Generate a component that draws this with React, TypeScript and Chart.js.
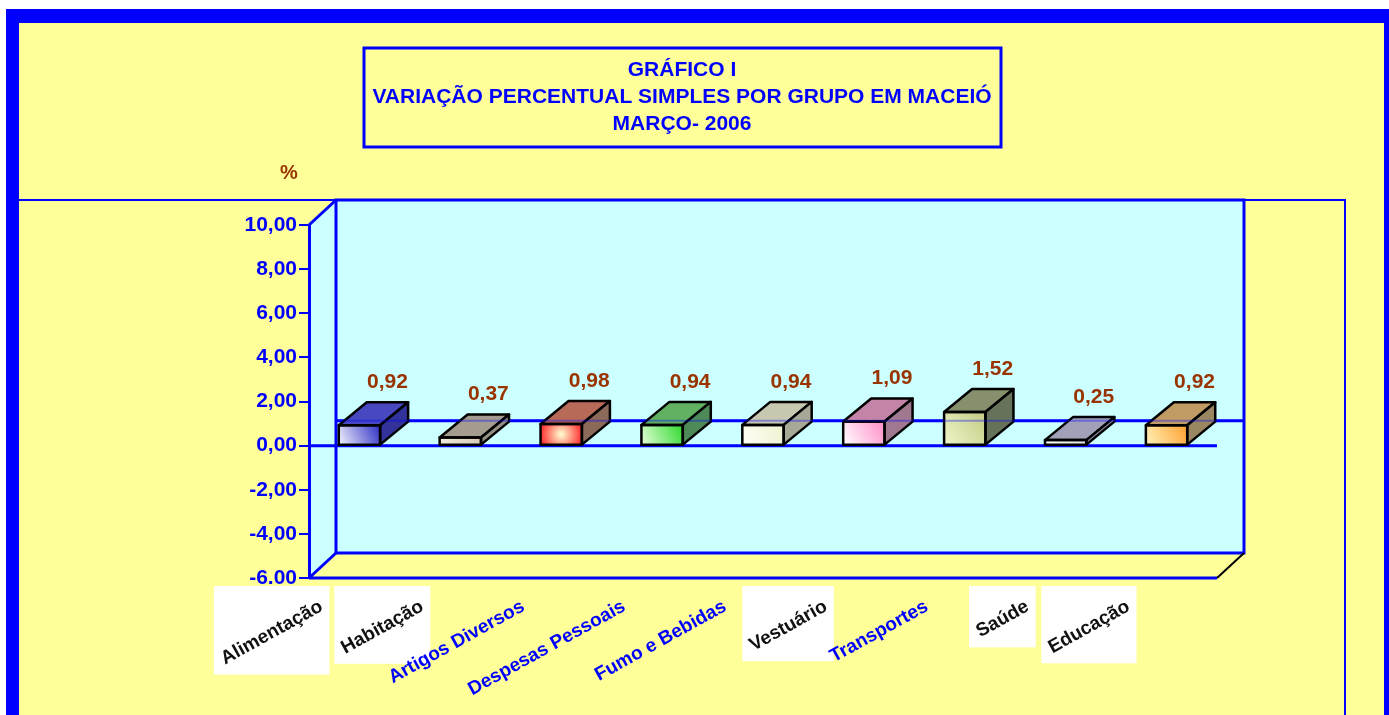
import React, { useEffect, useRef } from "react";
import { Chart, registerables } from "chart.js";
Chart.register(...registerables);

// ---------- data ----------
const categories = [
  "Alimentação",
  "Habitação",
  "Artigos Diversos",
  "Despesas Pessoais",
  "Fumo e Bebidas",
  "Vestuário",
  "Transportes",
  "Saúde",
  "Educação",
];
const values = [0.92, 0.37, 0.98, 0.94, 0.94, 1.09, 1.52, 0.25, 0.92];
const valueLabels = ["0,92", "0,37", "0,98", "0,94", "0,94", "1,09", "1,52", "0,25", "0,92"];
const yTickLabels = ["-6.00", "-4,00", "-2,00", "0,00", "2,00", "4,00", "6,00", "8,00", "10,00"];
const titleLines = ["GRÁFICO I", "VARIAÇÃO PERCENTUAL SIMPLES POR GRUPO EM MACEIÓ", "MARÇO- 2006"];
const yUnit = "%";

// ---------- styles ----------
const labelBoxed = [true, true, false, false, false, true, false, true, true];
const frontStart = ["#F4F4FF", "#F2EEDC", "#FFF6CC", "#E6FFD8", "#FFFFF6", "#FFFFFF", "#EEF4C8", "#FFFFFF", "#FFF2B8"];
const frontEnd = ["#2E2EC4", "#D8C8B8", "#FF3030", "#2ED82E", "#F0F0D0", "#FF8CC8", "#C4CC84", "#E0E0E8", "#FFA030"];
const topColors = ["#4848C0", "#A49C8E", "#B86A58", "#62B062", "#C8C8B0", "#C484A8", "#86906C", "#A0A0B8", "#C09C64"];
const sideColors = ["#32329A", "#949086", "#8C6A5A", "#4E8A58", "#A8A896", "#A07890", "#66725A", "#8A8AA4", "#9A8660"];

const BLUE = "#0000FF";
const YEL = "#FFFF99";
const CYAN = "#CCFFFF";
const BROWN = "#993300";
const FONT = "'Liberation Sans', Arial, sans-serif";
const WALL_DX = 27;
const WALL_DY = -25;
const BAR_DX = 28;
const BAR_DY = -23;

const scenePlugin = {
  id: "scene3d",
  beforeDraw(chart: any) {
    const { ctx, chartArea: a, width, height } = chart;
    ctx.save();
    ctx.fillStyle = "#FFFFFF";
    ctx.fillRect(0, 0, width, height);
    ctx.fillStyle = BLUE;
    ctx.fillRect(6, 9, width - 6, height - 9);
    ctx.fillStyle = YEL;
    ctx.fillRect(19, 23, 1384 - 19, height - 23);

    // inner frame
    ctx.strokeStyle = BLUE;
    ctx.lineWidth = 2;
    ctx.beginPath();
    ctx.moveTo(19, 200);
    ctx.lineTo(1345, 200);
    ctx.lineTo(1345, height);
    ctx.stroke();

    // title box
    ctx.lineWidth = 3;
    ctx.strokeRect(364, 48, 637, 99);
    ctx.fillStyle = BLUE;
    ctx.font = `bold 21px ${FONT}`;
    ctx.textAlign = "center";
    ctx.textBaseline = "middle";
    titleLines.forEach((t, i) => ctx.fillText(t, 682, 70 + i * 27));

    ctx.fillStyle = BROWN;
    ctx.font = `bold 20px ${FONT}`;
    ctx.fillText(yUnit, 289, 173);

    // walls
    const L = a.left, R = a.right, T = a.top, B = a.bottom;
    ctx.fillStyle = CYAN;
    ctx.fillRect(L + WALL_DX, T + WALL_DY, R - L, B - T);
    ctx.beginPath();
    ctx.moveTo(L, T);
    ctx.lineTo(L + WALL_DX, T + WALL_DY);
    ctx.lineTo(L + WALL_DX, B + WALL_DY);
    ctx.lineTo(L, B);
    ctx.closePath();
    ctx.fill();

    ctx.strokeStyle = BLUE;
    ctx.lineWidth = 3;
    ctx.strokeRect(L + WALL_DX, T + WALL_DY, R - L, B - T);
    ctx.beginPath();
    ctx.moveTo(L, T);
    ctx.lineTo(L + WALL_DX, T + WALL_DY);
    ctx.moveTo(L, B);
    ctx.lineTo(L + WALL_DX, B + WALL_DY);
    ctx.moveTo(L, B);
    ctx.lineTo(R, B);
    ctx.stroke();
    ctx.strokeStyle = "#000000";
    ctx.lineWidth = 2;
    ctx.beginPath();
    ctx.moveTo(R, B);
    ctx.lineTo(R + WALL_DX, B + WALL_DY);
    ctx.stroke();

    // zero lines
    const y0 = chart.scales.y.getPixelForValue(0);
    ctx.strokeStyle = BLUE;
    ctx.lineWidth = 3;
    ctx.beginPath();
    ctx.moveTo(L + WALL_DX, y0 + WALL_DY);
    ctx.lineTo(R + WALL_DX, y0 + WALL_DY);
    ctx.moveTo(L, y0);
    ctx.lineTo(R, y0);
    ctx.stroke();
    ctx.restore();
  },
  afterDatasetsDraw(chart: any) {
    const { ctx, chartArea: a } = chart;
    const meta = chart.getDatasetMeta(0);
    ctx.save();
    meta.data.forEach((bar: any, i: number) => {
      const { x, y, base, width } = bar.getProps(["x", "y", "base", "width"], true);
      const l = x - width / 2, r = x + width / 2;
      const top = Math.min(y, base), bot = Math.max(y, base);
      const h = bot - top;

      // front face
      let g: any;
      if (i === 2) {
        g = ctx.createRadialGradient(x, (top + bot) / 2, 1, x, (top + bot) / 2, width / 2);
        g.addColorStop(0, frontStart[i]);
        g.addColorStop(1, frontEnd[i]);
      } else {
        g = ctx.createLinearGradient(r, top, l, bot);
        g.addColorStop(0, frontEnd[i]);
        g.addColorStop(1, frontStart[i]);
      }
      ctx.fillStyle = g;
      ctx.fillRect(l, top, width, h);

      ctx.lineWidth = 2.5;
      ctx.lineJoin = "round";
      ctx.strokeStyle = "#000000";
      // top face
      ctx.beginPath();
      ctx.moveTo(l, top);
      ctx.lineTo(l + BAR_DX, top + BAR_DY);
      ctx.lineTo(r + BAR_DX, top + BAR_DY);
      ctx.lineTo(r, top);
      ctx.closePath();
      ctx.fillStyle = topColors[i];
      ctx.fill();
      ctx.stroke();
      // side face
      ctx.beginPath();
      ctx.moveTo(r, top);
      ctx.lineTo(r + BAR_DX, top + BAR_DY);
      ctx.lineTo(r + BAR_DX, bot + BAR_DY);
      ctx.lineTo(r, bot);
      ctx.closePath();
      ctx.fillStyle = sideColors[i];
      ctx.fill();
      ctx.stroke();
      ctx.strokeRect(l, top, width, h);
    });

    // back zero line seen through the bars
    const y0 = chart.scales.y.getPixelForValue(0);
    ctx.globalAlpha = 0.35;
    ctx.strokeStyle = BLUE;
    ctx.lineWidth = 2;
    ctx.beginPath();
    ctx.moveTo(a.left + WALL_DX, y0 + WALL_DY);
    ctx.lineTo(a.right + WALL_DX, y0 + WALL_DY);
    ctx.stroke();
    ctx.globalAlpha = 1;

    // value labels
    ctx.fillStyle = BROWN;
    ctx.font = `bold 21px ${FONT}`;
    ctx.textAlign = "center";
    ctx.textBaseline = "middle";
    meta.data.forEach((bar: any, i: number) => {
      const { x, y, base } = bar.getProps(["x", "y", "base"], true);
      const top = Math.min(y, base);
      ctx.fillText(valueLabels[i], x + 28, top + BAR_DY - 20);
    });
    ctx.restore();
  },
  afterDraw(chart: any) {
    const { ctx } = chart;
    const xs = chart.scales.x;
    const ang = (29 * Math.PI) / 180;
    const cs = Math.cos(ang), sn = Math.sin(ang);
    const hgt = 18;
    ctx.save();
    ctx.font = `bold 19px ${FONT}`;
    const items = categories.map((c, i) => {
      const cx = xs.getPixelForValue(i);
      const L = ctx.measureText(c).width;
      const right = cx - 34;
      const topY = 597;
      const ax = right - hgt * sn;
      return { c, i, ax, ay: topY, L, right, topY };
    });
    ctx.fillStyle = "#FFFFFF";
    items.forEach((it) => {
      if (!labelBoxed[it.i]) return;
      const left = it.right - (it.L * cs + hgt * sn);
      const bottom = it.topY + it.L * sn + hgt * cs;
      ctx.fillRect(left - 4, it.topY - 11, it.right - left + 8, bottom - it.topY + 18);
    });
    items.forEach((it) => {
      ctx.save();
      ctx.translate(it.ax, it.ay);
      ctx.rotate(-ang);
      ctx.textAlign = "right";
      ctx.textBaseline = "top";
      ctx.fillStyle = labelBoxed[it.i] ? "#111111" : BLUE;
      ctx.fillText(it.c, 0, 0);
      ctx.restore();
    });
    ctx.restore();
  },
};

export default function App() {
  const ref = useRef<HTMLCanvasElement>(null);
  useEffect(() => {
    document.body.style.margin = "0";
    const chart = new Chart(ref.current as HTMLCanvasElement, {
      type: "bar",
      data: {
        labels: categories,
        datasets: [
          {
            data: values,
            backgroundColor: frontEnd,
            borderWidth: 0,
            barPercentage: 0.41,
            categoryPercentage: 1,
          },
        ],
      },
      options: {
        responsive: false,
        animation: false,
        devicePixelRatio: 1,
        layout: { padding: { left: 209, right: 172, top: 225, bottom: 137 } },
        plugins: { legend: { display: false }, tooltip: { enabled: false }, title: { display: false } },
        scales: {
          x: { type: "category", display: false, offset: true },
          y: {
            type: "linear",
            min: -6,
            max: 10,
            afterFit: (s: any) => {
              s.width = 100;
            },
            ticks: {
              stepSize: 2,
              color: BLUE,
              padding: 2,
              font: { family: FONT, size: 21, weight: "bold" },
              callback: (_v: any, i: number) => yTickLabels[i],
            },
            grid: { drawOnChartArea: false, drawTicks: true, tickLength: 10, color: BLUE, lineWidth: 2 },
            border: { display: true, color: BLUE, width: 3 },
          },
        },
      },
      plugins: [scenePlugin],
    } as any);
    return () => chart.destroy();
  }, []);
  return (
    <div style={{ width: 1389, height: 715 }}>
      <canvas ref={ref} width={1389} height={715} style={{ display: "block" }} />
    </div>
  );
}
